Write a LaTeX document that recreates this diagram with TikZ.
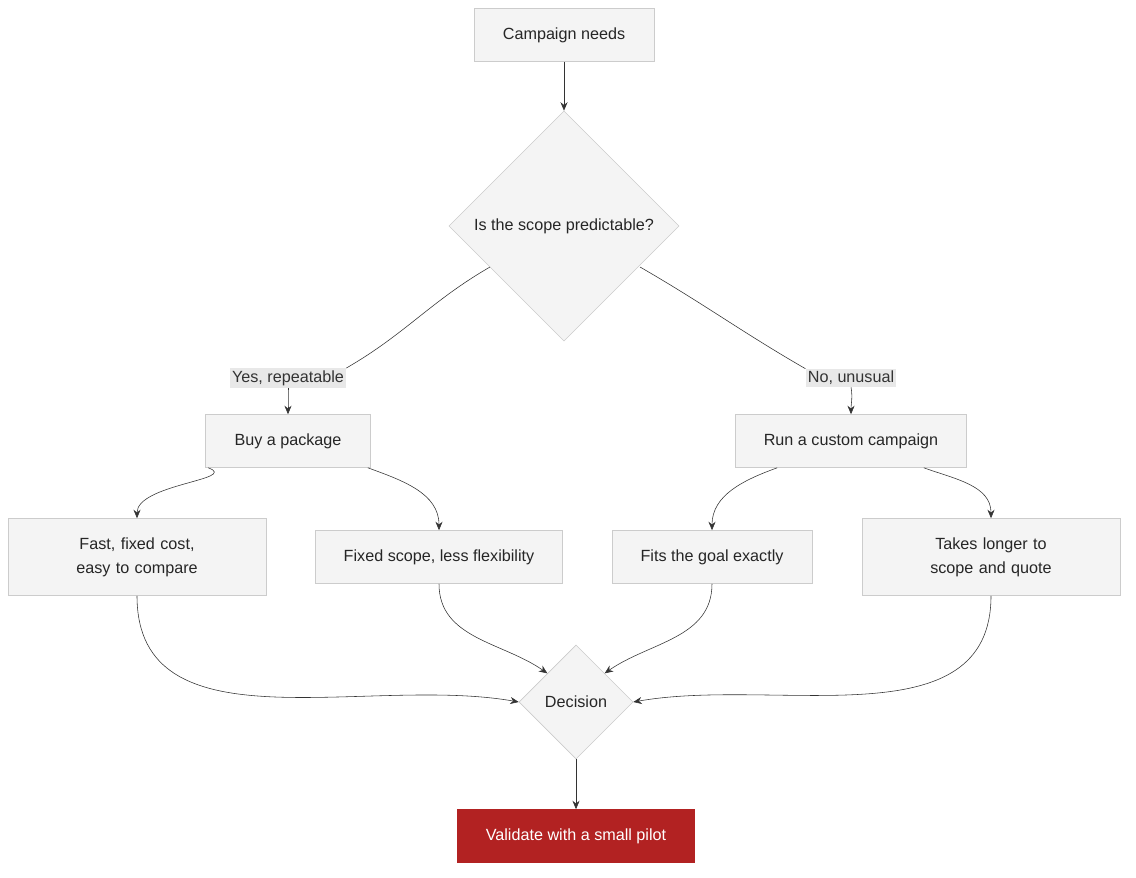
\documentclass[tikz,border=0pt]{standalone}
\usepackage{fontspec}
\setmainfont{Liberation Sans}
\usetikzlibrary{shapes.geometric,arrows.meta,positioning}
\definecolor{boxfill}{HTML}{F4F4F4}
\definecolor{boxline}{HTML}{CCCCCC}
\definecolor{edgecol}{HTML}{333333}
\definecolor{lblfill}{HTML}{E8E8E8}
\definecolor{pilotred}{HTML}{B22222}
\tikzset{
  box/.style={draw=boxline,fill=boxfill,text=black!85,align=center,inner sep=0pt},
  choice/.style={diamond,draw=boxline,fill=boxfill,text=black!85,inner sep=0pt,aspect=1},
  lbl/.style={fill=lblfill,text=black!80,inner sep=1.5pt},
  flow/.style={draw=edgecol,-{Stealth[length=6pt,width=5pt]}},
}
\begin{document}
\begin{tikzpicture}[x=0.025cm,y=-0.025cm,font=\fontsize{11.5}{17}\selectfont]
  \useasboundingbox (0,0) rectangle (1136,878);

  % top part
  \node[box,minimum width=4.5cm,minimum height=1.325cm] (needs) at (564,35) {Campaign needs};
  \node[choice,minimum size=5.75cm] (scope) at (564,226) {Is the scope predictable?};
  \node[lbl] (yes) at (288,378) {Yes, repeatable};
  \node[lbl] (no) at (851,378) {No, unusual};

  % two ways
  \node[box,minimum width=4.125cm,minimum height=1.325cm] (pkg) at (288,441) {Buy a package};
  \node[box,minimum width=5.775cm,minimum height=1.325cm] (custom) at (851,441) {Run a custom campaign};

  % consequences
  \node[box,minimum width=6.45cm,minimum height=1.925cm,text width=5.4cm] (fast) at (137,557) {Fast, fixed cost, easy to compare};
  \node[box,minimum width=6.175cm,minimum height=1.325cm] (fixed) at (439,557) {Fixed scope, less flexibility};
  \node[box,minimum width=5cm,minimum height=1.325cm] (fits) at (712,557) {Fits the goal exactly};
  \node[box,minimum width=6.45cm,minimum height=1.925cm,text width=5.4cm] (longer) at (991,557) {Takes longer to scope and quote};

  % end
  \node[choice,minimum size=2.85cm] (decision) at (576,702) {Decision};
  \node[box,draw=pilotred,fill=pilotred,text=white,minimum width=5.925cm,minimum height=1.325cm] (pilot) at (576,836) {Validate with a small pilot};

  \draw[flow] (needs) -- (scope);
  \draw[draw=edgecol] (scope.south west) ++(0,0) coordinate (sw);
  \draw[draw=edgecol] (490,267) to[out=210,in=30] (yes.north east);
  \draw[flow] (yes.south) to[out=270,in=90] (pkg.north);
  \draw[draw=edgecol] (640,267) to[out=-30,in=150] (no.north west);
  \draw[flow] (no.south) to[out=-80,in=90] (custom.north);

  \draw[flow] (pkg.south west)++(3,0) to[out=-20,in=90] (fast.north);
  \draw[flow] (pkg.south east)++(-3,0) to[out=-20,in=90] (fixed.north);
  \draw[flow] (custom.south west)++(42,0) to[out=200,in=90] (fits.north);
  \draw[flow] (custom.south east)++(-43,0) to[out=-20,in=90] (longer.north);

  \draw[flow] (fast.south) to[out=270,in=170] (decision.west);
  \draw[flow] (fixed.south) to[out=270,in=145] (decision.north west);
  \draw[flow] (fits.south) to[out=270,in=35] (decision.north east);
  \draw[flow] (longer.south) to[out=270,in=10] (decision.east);
  \draw[flow] (decision) -- (pilot);
\end{tikzpicture}
\end{document}
